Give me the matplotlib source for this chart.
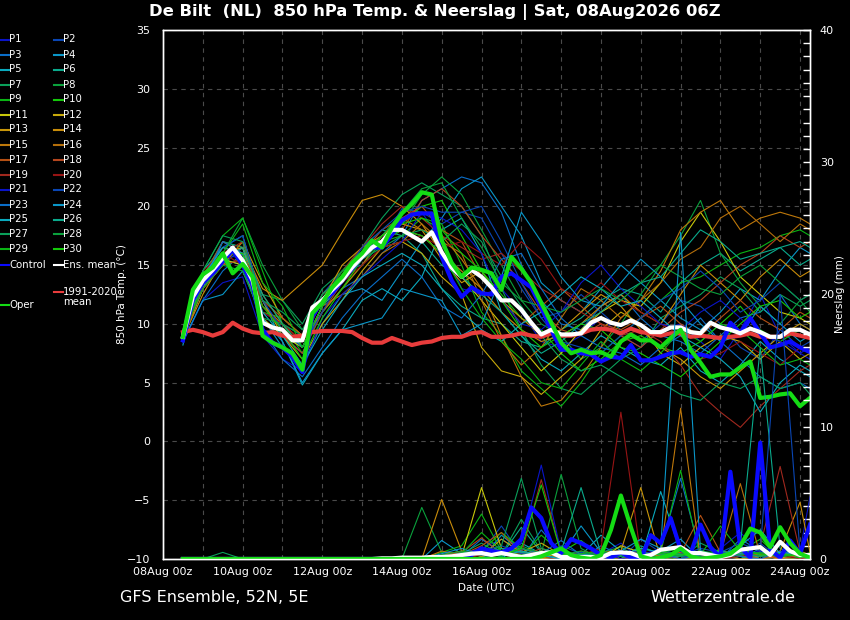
import numpy as np
import matplotlib
matplotlib.use("Agg")
import matplotlib.pyplot as plt
import matplotlib.dates as mdates
from matplotlib.lines import Line2D
from matplotlib.ticker import MultipleLocator

# 6-hourly series, 08Aug 12Z .. 24Aug 06Z (64 steps)
ens_mean = [8.9, 12.3, 13.7, 14.6, 15.6, 16.5, 15.4, 13.7, 10.1, 9.7,
            9.5, 8.6, 8.6, 11.4, 12.0, 12.9, 13.7, 14.8, 15.7, 16.5,
            17.0, 18.0, 18.0, 17.5, 17.0, 17.8, 16.1, 14.8, 14.0, 14.6,
            14.0, 13.1, 12.0, 12.0, 11.2, 10.1, 9.1, 9.5, 9.1, 9.1,
            9.2, 10.1, 10.5, 10.1, 9.9, 10.3, 9.9, 9.3, 9.3, 9.7,
            9.7, 9.3, 9.2, 10.1, 9.7, 9.5, 9.2, 9.6, 9.3, 8.9,
            8.9, 9.5, 9.5, 9.1]
control = [8.6, 12.0, 13.5, 14.3, 15.3, 16.3, 15.0, 13.3, 9.5, 8.4,
           8.0, 7.2, 5.9, 10.6, 12.0, 12.6, 13.7, 14.7, 15.7, 16.5,
           16.5, 17.6, 18.8, 19.3, 19.4, 19.4, 15.7, 13.7, 12.3, 13.1,
           12.6, 12.5, 14.0, 14.3, 13.7, 13.1, 11.4, 9.5, 7.8, 7.8,
           7.5, 7.4, 6.8, 7.2, 7.1, 8.2, 6.9, 6.9, 7.2, 7.5,
           7.6, 7.2, 7.4, 7.2, 8.0, 10.1, 9.2, 10.5, 9.2, 8.0,
           8.2, 8.5, 8.0, 7.6]
oper = [8.9, 12.9, 14.2, 14.8, 16.0, 14.3, 15.1, 14.0, 9.0, 8.4,
        8.0, 7.5, 6.1, 10.9, 11.8, 13.1, 14.0, 15.2, 16.0, 17.1,
        16.5, 18.2, 19.4, 20.2, 21.2, 21.0, 17.1, 15.2, 14.0, 14.8,
        14.6, 14.3, 12.9, 15.7, 14.7, 13.5, 11.8, 10.1, 8.4, 7.5,
        7.8, 7.5, 7.6, 7.2, 8.5, 9.1, 8.6, 8.6, 8.0, 8.8,
        9.5, 7.8, 6.7, 5.5, 5.7, 5.7, 6.3, 6.8, 3.7, 3.8,
        4.0, 4.1, 3.0, 3.7]
clim_mean = [9.3, 9.5, 9.3, 9.0, 9.3, 10.1, 9.6, 9.3, 9.2, 9.3,
             9.0, 8.9, 9.0, 9.3, 9.4, 9.4, 9.4, 9.3, 8.8, 8.4,
             8.4, 8.8, 8.5, 8.2, 8.4, 8.5, 8.8, 8.9, 8.9, 9.2,
             9.3, 8.9, 8.9, 9.0, 9.2, 9.0, 8.9, 9.2, 9.0, 9.0,
             9.2, 9.5, 9.6, 9.5, 9.2, 9.6, 9.3, 9.2, 9.0, 9.2,
             9.2, 8.9, 9.0, 8.9, 8.8, 8.9, 9.0, 9.2, 8.9, 8.9,
             8.9, 9.2, 9.0, 8.8]
ens_mean_rain = [0, 0, 0, 0, 0, 0, 0, 0, 0, 0,
                 0, 0, 0, 0, 0, 0, 0, 0, 0, 0,
                 0.05, 0.05, 0.1, 0.1, 0.1, 0.15, 0.15, 0.2, 0.3, 0.4,
                 0.45, 0.3, 0.45, 0.3, 0.15, 0.3, 0.45, 0.5, 0.15, 0.15,
                 0.15, 0.15, 0.1, 0.45, 0.5, 0.45, 0.15, 0.3, 0.7, 0.8,
                 0.9, 0.45, 0.45, 0.3, 0.15, 0.3, 0.7, 0.8, 0.9, 0.3,
                 1.3, 0.6, 0.3, 0.3]
control_rain = [0, 0, 0, 0, 0, 0, 0, 0, 0, 0,
                0, 0, 0, 0, 0, 0, 0, 0, 0, 0,
                0, 0, 0, 0, 0, 0, 0, 0, 0, 0.3,
                0.8, 0.6, 0.5, 0.8, 1.5, 3.9, 3.1, 1.2, 0.45, 1.5,
                1.2, 0.8, 0.3, 0.1, 0.5, 0.1, 0.0, 1.8, 1.2, 3.1,
                0.7, 0.4, 2.6, 0.9, 0.1, 6.6, 0.9, 0.1, 8.8, 0.7,
                0.1, 1.4, 0.4, 2.6]
oper_rain = [0, 0, 0, 0, 0, 0, 0, 0, 0, 0,
             0, 0, 0, 0, 0, 0, 0, 0, 0, 0,
             0, 0, 0, 0, 0, 0, 0, 0, 0, 0,
             0, 0, 0, 0, 0, 0, 0.2, 0.5, 0.8, 0.3,
             0.1, 0.0, 0.3, 2.2, 4.8, 2.4, 0.2, 0.0, 0.1, 0.3,
             0.8, 0.2, 0.0, 0.1, 0.2, 0.4, 1.0, 2.3, 2.0, 0.9,
             2.4, 1.2, 0.4, 0.1]

# 12-hourly perturbed members, 08Aug 12Z .. 24Aug 00Z plus 24Aug 06Z (33 steps)
temp_p1 = [8.8, 14.0, 16.0, 15.5, 9.5, 9.0, 7.5, 11.5, 13.5, 16.0, 17.5, 19.0, 19.5, 17.0, 13.0, 12.5, 13.0,
           11.0, 8.5, 8.0, 9.0, 10.5, 9.0, 8.0, 9.5, 10.0, 8.5, 7.0, 9.5, 12.5, 9.0, 7.5, 7.0]
temp_p2 = [9.0, 13.5, 15.0, 16.5, 11.0, 10.0, 9.0, 12.5, 14.5, 15.0, 17.0, 19.8, 19.5, 18.5, 19.5, 19.0, 16.0,
           13.0, 10.5, 11.0, 12.5, 11.0, 9.5, 8.5, 10.0, 12.0, 11.5, 10.0, 8.0, 7.0, 9.5, 8.0, 8.5]
temp_p3 = [8.5, 12.0, 14.5, 16.0, 12.0, 9.5, 8.0, 11.0, 13.0, 14.0, 16.0, 17.5, 20.5, 21.5, 22.5, 22.0, 19.5,
           15.0, 12.0, 10.0, 9.5, 11.5, 12.5, 10.5, 9.0, 8.5, 7.5, 9.0, 10.5, 11.0, 12.5, 10.0, 9.5]
temp_p4 = [8.7, 13.0, 17.0, 16.5, 10.5, 8.0, 6.5, 10.0, 12.5, 13.0, 12.0, 14.5, 17.0, 19.0, 21.5, 22.5, 20.0,
           17.5, 13.5, 12.0, 11.0, 13.0, 15.0, 13.5, 12.0, 10.5, 9.5, 11.0, 13.0, 12.0, 14.5, 16.5, 16.0]
temp_p5 = [8.2, 14.5, 16.5, 17.5, 12.0, 8.5, 4.8, 7.5, 9.5, 12.0, 13.0, 12.0, 14.0, 18.0, 19.0, 16.0, 11.0,
           9.0, 7.0, 6.0, 7.5, 9.0, 8.0, 7.0, 6.5, 8.0, 6.0, 5.0, 6.5, 8.5, 7.0, 6.0, 5.5]
temp_p6 = [8.9, 13.0, 15.5, 15.0, 10.0, 9.5, 8.5, 12.5, 14.0, 16.5, 18.0, 17.5, 16.0, 13.0, 11.5, 10.5, 10.0,
           8.5, 8.0, 9.5, 10.5, 12.0, 13.0, 12.5, 11.0, 13.5, 15.0, 16.0, 14.5, 15.5, 16.5, 15.0, 15.5]
temp_p7 = [9.0, 14.0, 17.0, 16.5, 12.5, 12.0, 10.0, 13.0, 14.5, 16.5, 19.0, 21.0, 22.0, 21.0, 20.0, 17.5, 13.0,
           9.5, 6.5, 4.5, 4.0, 5.5, 7.0, 8.0, 10.5, 11.5, 12.5, 14.0, 13.0, 11.0, 12.5, 11.5, 12.0]
temp_p8 = [8.6, 13.5, 16.0, 19.0, 15.0, 12.0, 9.5, 12.0, 13.5, 15.5, 17.0, 18.5, 21.0, 22.5, 21.0, 18.0, 15.0,
           12.0, 10.0, 9.0, 7.0, 8.0, 10.0, 12.5, 15.0, 17.5, 20.5, 16.0, 13.5, 11.5, 10.0, 12.0, 11.0]
temp_p9 = [8.8, 14.5, 17.5, 19.0, 14.5, 10.0, 7.5, 11.0, 13.0, 15.0, 17.0, 17.5, 19.0, 18.5, 15.0, 11.0, 9.0,
           6.0, 4.5, 3.0, 5.0, 7.5, 9.0, 10.5, 12.0, 13.5, 14.0, 15.0, 16.0, 16.5, 17.5, 18.0, 17.5]
temp_p10 = [9.1, 13.0, 15.0, 15.5, 11.0, 10.5, 9.0, 12.0, 14.0, 16.0, 17.5, 18.5, 20.0, 20.5, 17.5, 14.5, 12.5,
            10.5, 9.5, 7.5, 6.0, 7.0, 8.5, 9.0, 8.0, 7.5, 8.5, 10.0, 11.5, 9.5, 8.5, 9.5, 9.0]
temp_p11 = [8.9, 13.5, 15.5, 15.0, 10.5, 9.0, 8.0, 11.5, 13.5, 15.5, 17.0, 18.0, 17.5, 16.0, 14.0, 12.0, 10.0,
            8.0, 6.0, 7.5, 9.5, 11.0, 12.0, 11.5, 13.5, 17.0, 19.5, 17.0, 14.0, 12.5, 11.0, 10.5, 10.0]
temp_p12 = [9.2, 14.0, 16.0, 16.5, 12.0, 9.0, 7.0, 10.0, 12.0, 14.5, 16.5, 17.0, 16.0, 14.0, 12.5, 8.0, 6.0,
            5.5, 4.0, 5.5, 7.0, 9.5, 11.0, 10.0, 7.5, 6.5, 8.0, 9.0, 8.5, 7.0, 8.5, 7.0, 7.5]
temp_p13 = [8.7, 13.0, 15.0, 17.0, 13.5, 10.5, 9.0, 12.0, 15.0, 16.5, 17.5, 18.5, 18.0, 15.5, 13.5, 14.5, 12.0,
            10.5, 9.0, 9.5, 11.0, 12.5, 11.5, 9.5, 8.0, 7.0, 5.5, 4.5, 6.0, 7.5, 9.0, 10.0, 9.5]
temp_p14 = [8.8, 12.5, 15.5, 16.5, 13.0, 12.0, 13.5, 15.0, 17.8, 20.5, 21.0, 20.0, 18.5, 16.0, 14.5, 13.0, 11.0,
            9.5, 8.5, 9.0, 10.0, 11.5, 12.5, 11.0, 10.0, 12.5, 15.0, 13.5, 12.0, 14.0, 15.5, 14.0, 14.5]
temp_p15 = [9.0, 14.0, 16.5, 16.0, 11.5, 10.0, 8.5, 11.0, 13.0, 15.0, 17.5, 19.0, 18.0, 17.5, 15.5, 13.0, 9.0,
            5.5, 3.0, 3.5, 5.5, 8.0, 10.5, 12.0, 14.5, 18.0, 19.5, 20.5, 18.0, 19.0, 19.5, 19.0, 18.5]
temp_p16 = [8.5, 13.5, 15.0, 17.0, 12.5, 10.0, 8.0, 11.5, 12.5, 14.0, 16.0, 17.0, 18.5, 17.0, 16.0, 12.0, 8.5,
            6.5, 8.0, 10.5, 13.0, 12.0, 10.5, 12.0, 13.5, 15.5, 16.5, 19.0, 20.0, 18.5, 17.0, 18.5, 18.0]
temp_p17 = [8.9, 14.0, 17.0, 16.0, 12.0, 10.5, 9.0, 12.5, 14.0, 16.0, 18.0, 19.0, 20.0, 18.0, 17.0, 14.0, 12.0,
            10.0, 11.5, 13.0, 11.5, 10.0, 9.5, 10.5, 11.5, 10.0, 9.0, 10.5, 12.0, 10.5, 9.5, 11.0, 10.5]
temp_p18 = [9.1, 13.0, 15.0, 15.5, 10.0, 9.0, 7.5, 11.0, 13.5, 15.5, 17.0, 18.0, 20.5, 21.5, 20.0, 17.5, 15.5,
            13.5, 11.0, 9.5, 9.0, 10.0, 9.0, 8.0, 9.5, 11.0, 12.0, 13.5, 15.0, 16.0, 17.5, 16.5, 17.0]
temp_p19 = [8.6, 13.5, 16.0, 17.0, 11.5, 9.5, 8.5, 12.0, 14.5, 16.5, 18.5, 20.0, 19.0, 17.5, 16.5, 15.5, 16.0,
            14.5, 13.0, 12.0, 11.0, 10.0, 9.0, 9.5, 8.5, 6.5, 4.0, 2.5, 1.2, 3.0, 4.5, 6.0, 6.5]
temp_p20 = [9.0, 14.5, 16.0, 15.0, 11.0, 10.0, 8.5, 12.0, 13.5, 15.0, 16.5, 17.0, 17.5, 16.5, 17.0, 16.0, 15.0,
            17.0, 15.5, 13.0, 12.0, 13.5, 12.0, 11.0, 10.0, 9.0, 7.0, 7.5, 8.5, 7.5, 6.5, 8.0, 7.5]
temp_p21 = [8.4, 12.0, 13.5, 14.0, 9.0, 7.0, 6.0, 10.5, 12.5, 14.0, 15.5, 17.0, 19.5, 19.0, 18.0, 16.0, 12.0,
            10.0, 9.5, 11.0, 13.5, 15.0, 13.0, 11.5, 10.0, 9.5, 11.0, 12.0, 10.5, 9.0, 8.5, 7.5, 8.0]
temp_p22 = [8.9, 14.0, 16.5, 17.5, 12.0, 9.5, 8.0, 11.0, 14.0, 16.5, 18.0, 19.5, 20.0, 19.5, 19.5, 20.0, 17.0,
            13.5, 10.5, 8.5, 8.0, 7.5, 9.0, 10.5, 12.0, 13.0, 14.5, 13.0, 11.0, 12.0, 13.5, 12.0, 12.5]
temp_p23 = [9.1, 13.5, 17.0, 16.0, 9.5, 7.0, 5.5, 8.0, 10.5, 12.5, 14.0, 15.5, 14.0, 11.5, 10.5, 12.5, 15.5,
            16.0, 13.0, 10.5, 9.0, 8.0, 7.5, 6.5, 8.0, 9.0, 10.5, 8.5, 7.0, 5.5, 4.5, 5.0, 4.5]
temp_p24 = [8.5, 12.0, 12.5, 14.5, 10.5, 8.5, 5.0, 7.5, 9.5, 10.0, 10.5, 13.0, 12.5, 12.0, 9.0, 10.0, 14.0,
            19.5, 17.0, 14.0, 12.0, 11.5, 13.5, 15.5, 14.0, 12.0, 10.0, 8.5, 9.0, 11.5, 10.0, 8.5, 9.0]
temp_p25 = [8.7, 14.0, 16.5, 16.0, 11.0, 9.0, 6.5, 9.5, 12.0, 14.0, 15.0, 16.0, 15.0, 13.0, 11.0, 9.5, 8.5,
            10.0, 11.0, 12.5, 14.0, 13.0, 11.5, 12.0, 10.5, 9.0, 8.0, 7.0, 5.5, 2.5, 5.0, 6.5, 6.0]
temp_p26 = [9.0, 13.5, 15.5, 16.5, 12.5, 10.0, 8.0, 11.5, 13.5, 15.5, 17.0, 18.0, 17.0, 15.0, 14.0, 12.5, 11.0,
            9.0, 7.5, 8.5, 10.0, 11.0, 12.5, 13.5, 14.0, 16.0, 18.0, 17.0, 15.5, 16.0, 16.5, 17.0, 16.5]
temp_p27 = [8.8, 14.5, 17.5, 17.0, 12.0, 11.0, 9.5, 12.5, 14.0, 15.5, 16.5, 17.5, 18.0, 17.0, 18.5, 17.0, 14.0,
            11.5, 9.0, 7.0, 6.0, 6.5, 5.5, 4.5, 5.0, 4.0, 3.5, 5.0, 4.5, 5.5, 4.5, 5.0, 4.0]
temp_p28 = [9.2, 13.0, 15.0, 14.5, 10.5, 10.0, 9.0, 12.0, 14.5, 16.0, 17.5, 19.5, 21.5, 22.0, 19.0, 16.5, 13.5,
            12.0, 11.5, 11.0, 12.0, 13.0, 12.0, 13.5, 15.0, 14.0, 13.0, 12.5, 14.0, 15.0, 13.5, 12.0, 12.5]
temp_p29 = [8.7, 13.5, 16.0, 18.5, 13.5, 11.5, 8.0, 11.5, 14.0, 15.5, 17.0, 18.0, 17.5, 16.0, 13.0, 10.5, 8.5,
            7.0, 5.0, 4.5, 6.5, 8.5, 7.0, 6.0, 7.5, 9.5, 8.5, 10.0, 9.5, 8.0, 6.5, 7.0, 6.5]
temp_p30 = [8.9, 14.0, 16.0, 16.0, 11.5, 9.5, 7.0, 10.5, 13.0, 15.5, 17.5, 18.5, 19.0, 18.0, 16.0, 14.5, 12.0,
            9.5, 8.0, 9.0, 10.0, 9.5, 8.0, 7.5, 6.5, 5.5, 7.0, 8.5, 10.0, 11.5, 12.0, 10.5, 11.0]

rain_p1 = [0, 0, 0, 0, 0, 0, 0, 0, 0, 0, 0, 0, 0, 0, 0.3, 0.8, 1.5, 0.5, 0.2, 0.8,
           0, 0.4, 1.2, 0, 0.6, 0.3, 0, 0.8, 2.0, 0.5, 0, 0.6, 4.7]
rain_p2 = [0, 0, 0, 0, 0, 0, 0, 0, 0, 0, 0, 0, 0, 0, 0, 0.5, 2.5, 0.3, 0, 1.0,
           0.4, 0, 0, 1.5, 0.5, 0, 0.7, 0, 0.3, 1.2, 0, 0.5, 0.2]
rain_p3 = [0, 0, 0, 0, 0, 0, 0, 0, 0, 0, 0, 0, 0, 0, 0.2, 1.5, 0.5, 0, 2.2, 0.4,
           0, 1.0, 0.3, 0, 0.8, 6.1, 0.4, 0, 1.5, 0.6, 0, 0.3, 0.2]
rain_p4 = [0, 0, 0, 0, 0, 0, 0, 0, 0, 0, 0, 0, 0, 1.4, 0.4, 0, 1.8, 0.6, 0, 0.3,
           2.5, 0.5, 0, 0.2, 0.6, 1.5, 0, 0.4, 0, 0.8, 0.3, 0, 0.4]
rain_p5 = [0, 0, 0, 0, 0, 0, 0, 0, 0, 0, 0, 0, 0, 0, 0.5, 0.2, 0, 1.2, 0.4, 0,
           0.3, 1.8, 0.6, 0, 5.1, 0.5, 0, 0.2, 0.9, 0, 0.4, 0, 0.2]
rain_p6 = [0, 0, 0, 0, 0, 0, 0, 0, 0, 0, 0, 0, 0, 0, 0, 0.8, 0.3, 2.4, 0.5, 0,
           0.2, 0.6, 0, 1.0, 0.3, 0, 0.5, 0.2, 1.0, 16.0, 0.8, 0.2, 0]
rain_p7 = [0, 0, 0.5, 0, 0, 0, 0, 0, 0, 0, 0, 0, 0, 0, 0.4, 1.2, 0.3, 3.0, 0.6, 0.2,
           0, 0.5, 0.9, 0, 0.3, 0, 1.2, 0.5, 0, 0.6, 0.3, 0.2, 0.4]
rain_p8 = [0, 0, 0, 0, 0, 0, 0, 0, 0, 0, 0, 0, 3.9, 0.5, 0.3, 0.8, 0.2, 1.0, 0.4, 6.4,
           0.8, 0, 0.3, 0.5, 0, 0.2, 0, 0.4, 0.6, 0, 0.2, 0, 0.3]
rain_p9 = [0, 0, 0, 0, 0, 0, 0, 0, 0, 0, 0, 0, 0, 0.5, 1.0, 3.4, 0.6, 0.2, 1.8, 0.5,
           0, 0.3, 0, 0.8, 0.5, 6.7, 0, 0.3, 0.6, 1.5, 0, 0.2, 0.5]
rain_p10 = [0, 0, 0, 0, 0, 0, 0, 0, 0, 0, 0, 0, 0, 0, 0.3, 0.6, 2.0, 0.8, 0.3, 0.5,
            1.4, 0.2, 0, 0.4, 0.2, 0, 0.3, 0.7, 0.2, 0, 0.4, 0.1, 0.3]
rain_p11 = [0, 0, 0, 0, 0, 0, 0, 0, 0, 0, 0, 0, 0, 0, 0.2, 5.4, 0.8, 0.3, 0, 0.6,
            0.2, 0, 1.0, 0.5, 0, 0.4, 0.2, 0, 0.8, 0.3, 0, 0.6, 0.3]
rain_p12 = [0, 0, 0, 0, 0, 0, 0, 0, 0, 0, 0, 0, 0, 0.3, 0.6, 0.2, 1.5, 0.5, 1.2, 0.3,
            0, 0.4, 0.6, 0, 0.3, 0, 0, 0.5, 0.2, 0.4, 0, 0.3, 0.2]
rain_p13 = [0, 0, 0, 0, 0, 0, 0, 0, 0, 0, 0, 0, 0, 0, 0.2, 0.4, 0.3, 0.8, 0.4, 0.2,
            0, 0.5, 0.6, 5.4, 0, 0.3, 0.2, 0, 0.5, 0.3, 0, 0, 0.2]
rain_p14 = [0, 0, 0, 0, 0, 0, 0, 0, 0, 0, 0, 0, 0, 4.5, 0.6, 0.2, 0.5, 0.3, 0, 0.2,
            0.4, 0, 0.3, 0.6, 0, 0.2, 0.5, 0.3, 0, 0.2, 0.6, 4.3, 0.5]
rain_p15 = [0, 0, 0, 0, 0, 0, 0, 0, 0, 0, 0, 0, 0, 0.6, 0.3, 0.8, 0.4, 0.2, 0.6, 0,
            0.3, 0.5, 0, 0.4, 0.5, 11.4, 0, 0.3, 0.4, 0, 0.2, 0.3, 0.2]
rain_p16 = [0, 0, 0, 0, 0, 0, 0, 0, 0, 0, 0, 0, 0, 0, 0.2, 0.5, 0.3, 0.6, 0.2, 0,
            0.4, 0.2, 0.6, 0, 0.3, 0.5, 0.2, 0.4, 5.7, 0.3, 0.5, 0.2, 0.4]
rain_p17 = [0, 0, 0, 0, 0, 0, 0, 0, 0, 0, 0, 0, 0, 0, 0.3, 1.0, 2.0, 0.4, 0.2, 0,
            0.6, 0.3, 0, 0.2, 0.5, 0.4, 3.3, 0.5, 0.2, 0.4, 0, 0.3, 0.2]
rain_p18 = [0, 0, 0, 0, 0, 0, 0, 0, 0, 0, 0, 0, 0, 0.2, 0.5, 1.6, 0.4, 0.2, 0.8, 0.3,
            0, 0.2, 0.6, 0.3, 0, 0.4, 0.2, 0.6, 0.3, 0, 0.4, 0.2, 0.3]
rain_p19 = [0, 0, 0, 0, 0, 0, 0, 0, 0, 0, 0, 0, 0, 0, 0.2, 0.3, 0.6, 0.4, 6.0, 0.5,
            0.2, 0, 0.4, 0.6, 0.3, 0, 0.5, 0.2, 0.8, 1.0, 7.0, 0.5, 0.3]
rain_p20 = [0, 0, 0, 0, 0, 0, 0, 0, 0, 0, 0, 0, 0, 0, 0, 0.3, 0.5, 0.2, 0.4, 0.6,
            0.3, 0.8, 11.1, 0.2, 0, 0.4, 0.3, 0, 0.2, 0.5, 0.3, 0, 0.2]
rain_p21 = [0, 0, 0, 0, 0, 0, 0, 0, 0, 0, 0, 0, 0, 0, 0.4, 0.8, 0.3, 1.2, 7.1, 0.5,
            0.2, 0.6, 0, 0.3, 0.8, 0.2, 0, 0.5, 0.3, 0.6, 0.2, 0.4, 0.3]
rain_p22 = [0, 0, 0, 0, 0, 0, 0, 0, 0, 0, 0, 0, 0, 0, 0.2, 0.6, 1.0, 0.4, 0.3, 0,
            0.5, 0.2, 0.4, 0.6, 0, 0.3, 0.8, 0.5, 1.2, 0.6, 20.0, 0.5, 0.3]
rain_p23 = [0, 0, 0, 0, 0, 0, 0, 0, 0, 0, 0, 0, 0, 0, 0.3, 0.5, 0.2, 0.8, 0.4, 1.4,
            0.3, 0, 0.6, 0.2, 0.4, 0, 0.3, 0.5, 0.2, 0, 0.6, 0.3, 0.2]
rain_p24 = [0, 0, 0, 0, 0, 0, 0, 0, 0, 0, 0, 0, 0, 0.4, 0.8, 0.3, 0.6, 0.2, 0.4, 0.5,
            0.3, 0.2, 0.6, 1.5, 0.8, 24.7, 0.6, 0.3, 0.4, 0.2, 0.5, 0.3, 0.2]
rain_p25 = [0, 0, 0, 0, 0, 0, 0, 0, 0, 0, 0, 0, 0, 0, 0.3, 0.5, 0.2, 0.6, 0.3, 0,
            0.4, 0.2, 0.3, 0.8, 0.5, 0.3, 0.6, 0.2, 1.0, 2.2, 0.4, 0.2, 0.3]
rain_p26 = [0, 0, 0, 0, 0, 0, 0, 0, 0, 0, 0, 0, 0, 0, 0.2, 0.4, 0.8, 0.5, 0.3, 0.6,
            5.4, 0.4, 0.2, 0.5, 0.3, 0.2, 0.4, 0.6, 0.3, 0.5, 0.2, 0.4, 0.2]
rain_p27 = [0, 0, 0, 0, 0, 0, 0, 0, 0, 0, 0, 0, 0, 0, 0.5, 0.3, 1.0, 6.1, 0.8, 0.4,
            0.2, 0.5, 0.3, 0, 0.6, 0.4, 0.2, 0.3, 0.5, 0.2, 0.4, 0.3, 0.2]
rain_p28 = [0, 0, 0, 0, 0, 0, 0, 0, 0, 0, 0, 0, 0, 0.3, 0.6, 0.4, 0.2, 0.8, 0.5, 0.3,
            0.6, 0.2, 0.4, 0.3, 0.5, 0.2, 0.6, 0.4, 0.3, 0.5, 0.2, 0.4, 0.3]
rain_p29 = [0, 0, 0, 0, 0, 0, 0, 0, 0, 0, 0, 0, 0, 0, 0.4, 2.0, 0.6, 0.3, 0.5, 0.2,
            0.4, 0.6, 0.3, 0.2, 0.5, 0.8, 0.3, 2.5, 0.6, 0.4, 0.2, 0.3, 0.2]
rain_p30 = [0, 0, 0, 0, 0, 0, 0, 0, 0, 0, 0, 0, 0, 0, 0.2, 0.5, 0.3, 0.8, 5.6, 0.4,
            0.2, 0.3, 0.6, 0.2, 0.4, 0.3, 0.5, 0.2, 0.8, 0.3, 0.4, 0.2, 0.3]

temp_members = [temp_p1, temp_p2, temp_p3, temp_p4, temp_p5, temp_p6, temp_p7, temp_p8, temp_p9, temp_p10,
                temp_p11, temp_p12, temp_p13, temp_p14, temp_p15, temp_p16, temp_p17, temp_p18, temp_p19, temp_p20,
                temp_p21, temp_p22, temp_p23, temp_p24, temp_p25, temp_p26, temp_p27, temp_p28, temp_p29, temp_p30]
rain_members = [rain_p1, rain_p2, rain_p3, rain_p4, rain_p5, rain_p6, rain_p7, rain_p8, rain_p9, rain_p10,
                rain_p11, rain_p12, rain_p13, rain_p14, rain_p15, rain_p16, rain_p17, rain_p18, rain_p19, rain_p20,
                rain_p21, rain_p22, rain_p23, rain_p24, rain_p25, rain_p26, rain_p27, rain_p28, rain_p29, rain_p30]

# Member colours repeat after P20
MEMBER_COLORS = ['#0a14c8', '#0a46b4', '#0a6ec8', '#0a96c8', '#0aaabe', '#0aaa8c', '#0aa05a', '#0aa03c',
                 '#0ab414', '#14c80a', '#c8c80a', '#c8aa0a', '#c8960a', '#c88c0a', '#be780a', '#b46e0a',
                 '#b45014', '#b4461e', '#a0281e', '#961414']
CONTROL_COLOR = '#0a0aff'
OPER_COLOR = '#14dc14'
MEAN_COLOR = '#ffffff'
CLIM_COLOR = '#e83c3c'
GRID_COLOR = '#4a4a4a'

# Time axes
t6 = np.arange(np.datetime64('2026-08-08T12'), np.datetime64('2026-08-24T07'), np.timedelta64(6, 'h'))
t12 = np.append(np.arange(np.datetime64('2026-08-08T12'), np.datetime64('2026-08-24T01'),
                          np.timedelta64(12, 'h')), np.datetime64('2026-08-24T06'))

W, H = 850, 620
fig = plt.figure(figsize=(W / 100, H / 100), dpi=100, facecolor='black')
ax = fig.add_axes([163 / W, 1 - 559 / H, (810 - 163) / W, (559 - 30) / H])
ax.set_facecolor('black')
axr = ax.twinx()

# Temperature spaghetti
for i, vals in enumerate(temp_members):
    ax.plot(t12, vals, color=MEMBER_COLORS[i % 20], lw=0.8)
ax.plot(t6, clim_mean, color=CLIM_COLOR, lw=3)
ax.plot(t6, control, color=CONTROL_COLOR, lw=3)
ax.plot(t6, ens_mean, color=MEAN_COLOR, lw=3)
ax.plot(t6, oper, color=OPER_COLOR, lw=3)

# Precipitation on the right axis
for i, vals in enumerate(rain_members):
    axr.plot(t12, vals, color=MEMBER_COLORS[i % 20], lw=0.8)
axr.plot(t6, control_rain, color=CONTROL_COLOR, lw=3)
axr.plot(t6, ens_mean_rain, color=MEAN_COLOR, lw=3)
axr.plot(t6, oper_rain, color=OPER_COLOR, lw=3)

# Axes, ticks and grid
ax.set_xlim(np.datetime64('2026-08-08T00'), np.datetime64('2026-08-24T06'))
ax.set_ylim(-10, 35)
axr.set_ylim(0, 40)
ax.yaxis.set_major_locator(MultipleLocator(5))
axr.yaxis.set_major_locator(MultipleLocator(10))
axr.yaxis.set_minor_locator(MultipleLocator(1))
ax.xaxis.set_major_locator(mdates.DayLocator(bymonthday=range(8, 25, 2)))
ax.xaxis.set_minor_locator(mdates.DayLocator())
ax.xaxis.set_major_formatter(mdates.DateFormatter('%d%b 00z'))
ax.grid(True, which='both', axis='x', color=GRID_COLOR, ls=(0, (4, 4)), lw=0.8)
ax.grid(True, which='major', axis='y', color=GRID_COLOR, ls=(0, (4, 4)), lw=0.8)

ax.tick_params(axis='both', which='both', length=0, colors='white', labelsize=8)
ax.tick_params(axis='y', pad=9)
ax.tick_params(axis='x', pad=6)
axr.tick_params(axis='y', which='both', direction='in', length=5, width=1, colors='white',
                labelsize=8, pad=7)
for a in (ax, axr):
    for sp in a.spines.values():
        sp.set_color('white')
        sp.set_linewidth(1)

ax.set_ylabel('850 hPa Temp. (°C)', color='white', fontsize=7.5, labelpad=0)
axr.set_ylabel('Neerslag (mm)', color='white', fontsize=7.5, labelpad=1)
ax.set_xlabel('Date (UTC)', color='white', fontsize=7.5, labelpad=4)

# Titles
fig.text(0.512, 1 - 12 / H, 'De Bilt  (NL)  850 hPa Temp. & Neerslag | Sat, 08Aug2026 06Z',
         color='white', fontsize=11.8, fontweight='bold', ha='center', va='center')
fig.text(120 / W, 1 - 598 / H, 'GFS Ensemble, 52N, 5E', color='white', fontsize=11.5,
         ha='left', va='center')
fig.text(650 / W, 1 - 598 / H, 'Wetterzentrale.de', color='white', fontsize=11.5,
         ha='left', va='center')


# Hand-placed legend at the left edge
def legend_entry(x, y, color, label):
    """Short coloured line followed by its label (figure pixels)"""
    fig.add_artist(Line2D([x / W, (x + 9) / W], [1 - y / H, 1 - y / H], color=color, lw=1.5,
                          transform=fig.transFigure))
    fig.text((x + 9) / W, 1 - y / H, label, color='white', fontsize=7.3, ha='left', va='center')


for i in range(30):
    col_x = 0 if i % 2 == 0 else 54
    legend_entry(col_x, 39.5 + 15 * (i // 2), MEMBER_COLORS[i % 20], 'P%d' % (i + 1))
legend_entry(0, 264.5, CONTROL_COLOR, 'Control')
legend_entry(54, 264.5, MEAN_COLOR, 'Ens. mean')
fig.add_artist(Line2D([54 / W, 63 / W], [1 - 292 / H, 1 - 292 / H], color=CLIM_COLOR, lw=1.5,
                      transform=fig.transFigure))
fig.text(63 / W, 1 - 297 / H, '1991-2020\nmean', color='white', fontsize=7.3, ha='left',
         va='center', linespacing=0.95)
legend_entry(0, 305, OPER_COLOR, 'Oper')

fig.savefig('out.png', dpi=100, facecolor='black')
